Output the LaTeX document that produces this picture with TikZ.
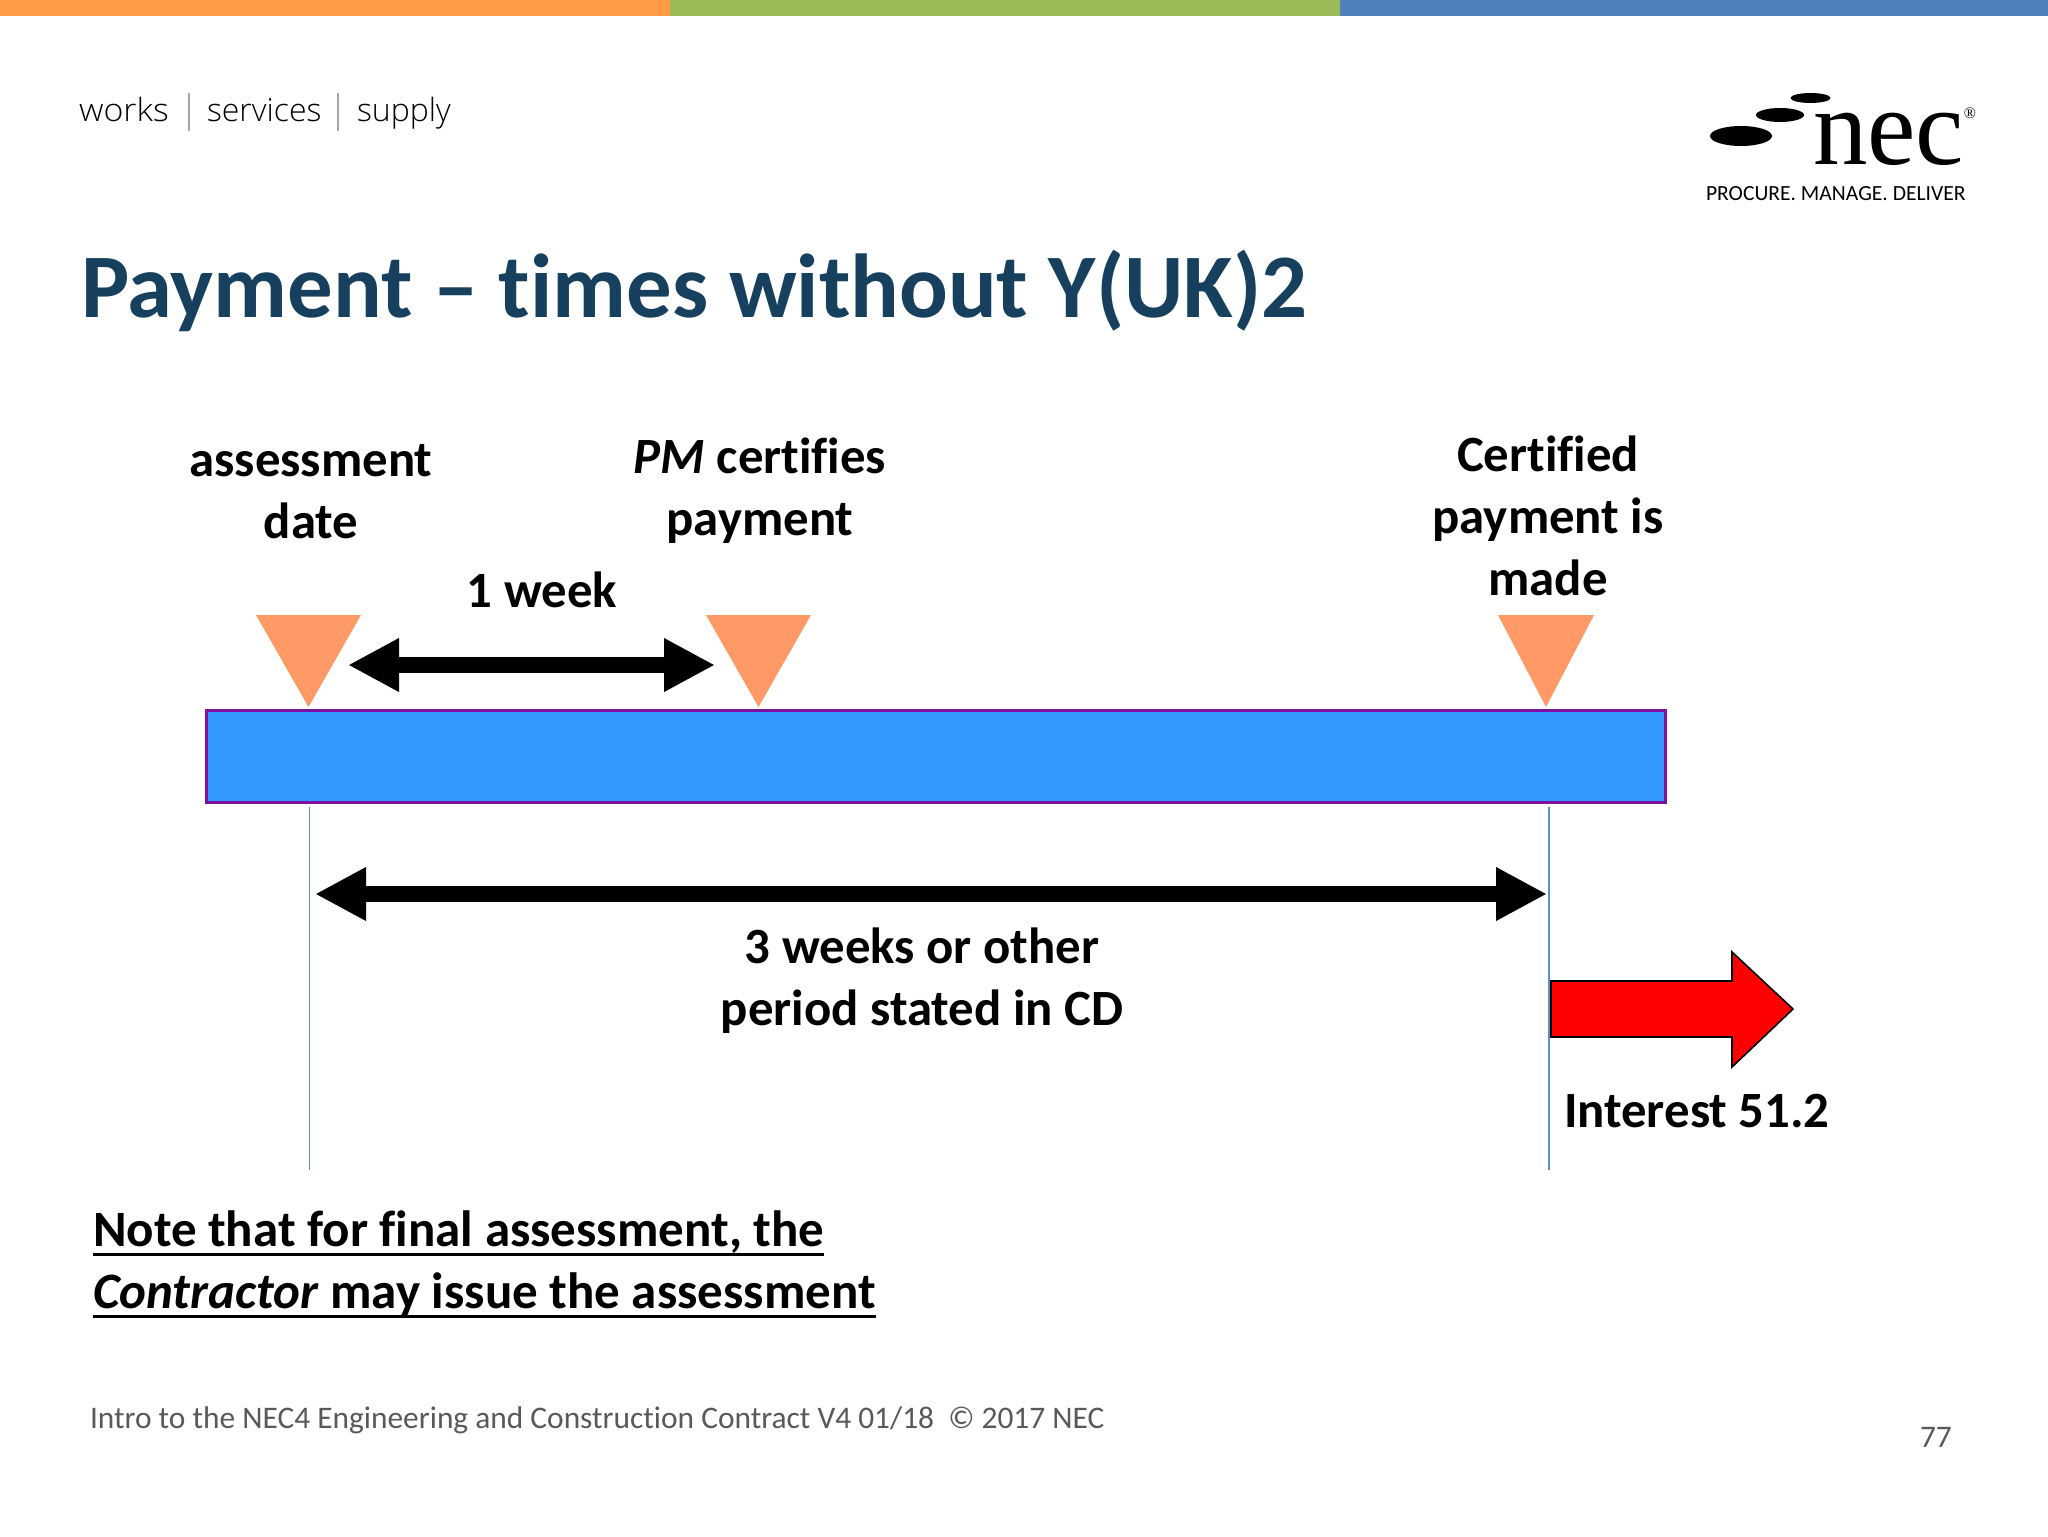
\documentclass[tikz,border=0pt]{standalone}
\usepackage{fontspec}
\setmainfont[Ligatures=NoCommon]{Carlito}
\newfontfamily\headfont{Open Sans Light}
\newfontfamily\logofont{Liberation Serif}
\usetikzlibrary{arrows.meta}
\definecolor{orangebar}{HTML}{FF9A45}
\definecolor{greenbar}{HTML}{9BBB59}
\definecolor{bluebar}{HTML}{4F81BD}
\definecolor{titleblue}{HTML}{17405F}
\definecolor{barblue}{HTML}{3399FF}
\definecolor{barpurple}{HTML}{7F0F9F}
\definecolor{marker}{HTML}{FF9966}
\definecolor{guide}{HTML}{5F8FC0}
\definecolor{footgrey}{HTML}{595959}
\newcommand\ulineit[1]{\setbox0\hbox{#1}\rlap{\rule[-4.7pt]{\wd0}{1.4pt}}\box0}
\tikzset{
  x=0.5pt,y=-0.5pt,
  every node/.style={inner sep=0pt,outer sep=0pt},
  label text/.style={font=\fontsize{25.4}{31}\selectfont\bfseries,text=black,align=center},
  marker tri/.style={fill=marker,draw=none},
  guide line/.style={draw=guide,line width=0.7pt},
  span arrow/.style={draw=black,line width=8pt,{Triangle[length=25.5pt,width=25pt]}-{Triangle[length=25.5pt,width=25pt]}},
  head text/.style={font=\headfont\fontsize{16}{20}\selectfont,text=black,anchor=base west},
  head sep/.style={draw=black!35,line width=0.6pt},
  foot text/.style={font=\fontsize{15.7}{18}\selectfont,text=footgrey,anchor=base west},
}
\begin{document}
\begin{tikzpicture}
\useasboundingbox (0,0) rectangle (2048,1536);
\fill[white] (0,0) rectangle (2048,1536);
% top bands
\fill[orangebar] (0,0) rectangle (670,16);
\fill[greenbar] (670,0) rectangle (1340,16);
\fill[bluebar] (1340,0) rectangle (2048,16);
% header
\node[head text] (works) at (79,121) {\addfontfeature{FakeStretch=1.06}works};
\node[head text] (services) at (207,121) {services};
\node[head text] (supply) at (357,121) {supply};
\draw[head sep] (189,93) -- (189,131);
\draw[head sep] (338,93) -- (338,131);
% logo
\fill[black] (1741,136) ellipse [x radius=31,y radius=10];
\fill[black] (1780,115) ellipse [x radius=24,y radius=7];
\fill[black] (1810.5,98) ellipse [x radius=20,y radius=5];
\node[anchor=base west,font=\logofont\fontsize{54.5}{60}\selectfont] (nec) at (1813,164) {nec};
\node[font=\logofont\fontsize{8}{9}\selectfont] (reg) at (1970,113) {®};
\node[anchor=base west,font=\fontsize{10.8}{13}\selectfont] (tag) at (1706,200) {PROCURE. MANAGE. DELIVER};
% title
\node[anchor=base west,font=\fontsize{45.4}{50}\selectfont\bfseries,text=titleblue] (title) at (81,317) {Payment – times without Y(UK)2};
% bar
\node[draw=barpurple,fill=barblue,line width=1.5pt,minimum width=729.5pt,minimum height=46pt,anchor=north west] (bar) at (206,710) {};
% guides
\coordinate (g1t) at (309.5,807); \coordinate (g1b) at (309.5,1170);
\coordinate (g2t) at (1549,807); \coordinate (g2b) at (1549,1170);
\draw[guide line] (g1t) -- (g1b);
\draw[guide line] (g2t) -- (g2b);
% markers
\fill[marker tri] (256,615) -- (361,615) -- (308.5,707) -- cycle;
\fill[marker tri] (706,615) -- (811,615) -- (758.5,707) -- cycle;
\fill[marker tri] (1498,615) -- (1594,615) -- (1546,707) -- cycle;
% span arrows
\coordinate (a1) at (348,665); \coordinate (a2) at (715,665);
\coordinate (b1) at (315,894); \coordinate (b2) at (1547,894);
\draw[span arrow] (a1) -- (a2);
\draw[span arrow] (b1) -- (b2);
% interest arrow
\draw[fill=red,draw=black,line width=0.8pt,line join=miter] (1551,981) -- (1732,981) -- (1732,952) -- (1793,1009) -- (1732,1067) -- (1732,1037) -- (1551,1037) -- cycle;
% labels
\node[label text] (l1) at (311,492) {assessment\\date};
\node[label text] (l2) at (760,491) {\textit{PM} certifies\\payment};
\node[label text] (l3) at (1548,516) {Certified\\payment is\\made};
\node[label text] (l4) at (542,590) {1 week};
\node[label text] (l5) at (922,981) {3 weeks or other\\period stated in CD};
\node[label text,anchor=base west] (l6) at (1564,1127) {Interest 51.2};
\node[label text,align=left,anchor=west,font=\fontsize{25.5}{31}\selectfont\bfseries] (note) at (93,1264) {\ulineit{Note that for final assessment, the}\\\ulineit{\textit{Contractor} may issue the assessment}};
% footer
\node[foot text] (foot) at (90,1428) {Intro to the NEC4 Engineering and Construction Contract V4 01/18\ \ © 2017 NEC};
\node[foot text] (pg) at (1920,1447) {77};
\end{tikzpicture}
\end{document}
